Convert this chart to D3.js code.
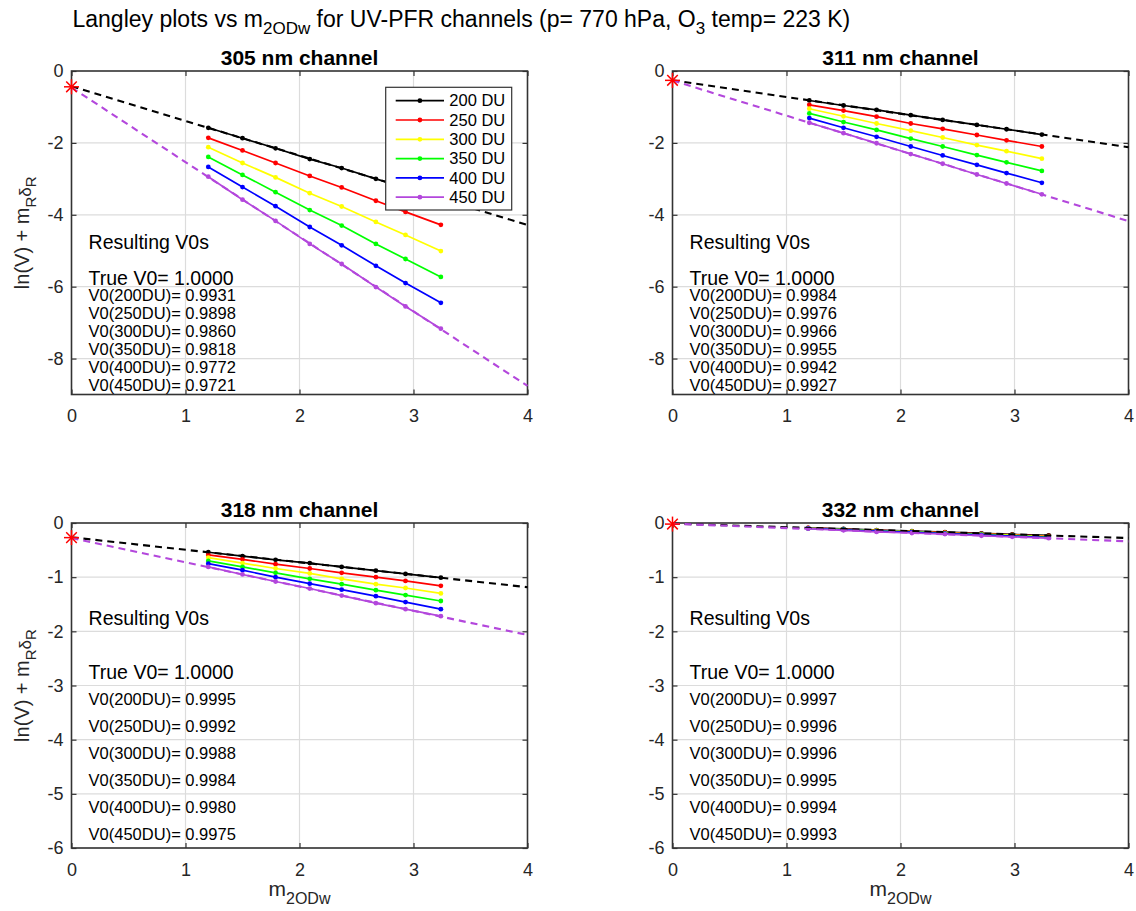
<!DOCTYPE html>
<html>
<head>
<meta charset="utf-8">
<script src="https://cdn.jsdelivr.net/npm/d3@7"></script>
<style>
  body { margin: 0; background: #fff; }
  svg { display: block; }
  text { font-family: "Liberation Sans", Arial, Helvetica, sans-serif; }
</style>
</head>
<body>
<svg id="chart" width="1136" height="911"></svg>
<script>
// Airmass (m_2ODw) of the simulated observations
const airmass = [1.20, 1.50, 1.79, 2.09, 2.37, 2.67, 2.93, 3.24];
const airmass332 = [1.19, 1.50, 1.79, 2.10, 2.39, 2.71, 2.98, 3.30];

// Total ozone columns
const ozoneLabels = ["200 DU", "250 DU", "300 DU", "350 DU", "400 DU", "450 DU"];
const ozoneKeys = ["200DU", "250DU", "300DU", "350DU", "400DU", "450DU"];

// ln(V) + m_R*delta_R, one row per ozone column
const lnV305 = [
  [-1.58, -1.87, -2.15, -2.45, -2.70, -3.00, -3.25, -3.55],
  [-1.86, -2.21, -2.56, -2.92, -3.24, -3.61, -3.92, -4.28],
  [-2.12, -2.56, -2.96, -3.40, -3.77, -4.20, -4.56, -5.01],
  [-2.39, -2.89, -3.37, -3.87, -4.30, -4.81, -5.23, -5.73],
  [-2.67, -3.23, -3.76, -4.34, -4.85, -5.42, -5.90, -6.45],
  [-2.94, -3.58, -4.17, -4.81, -5.37, -6.01, -6.55, -7.17]
];
const lnV311 = [
  [-0.82, -0.96, -1.08, -1.23, -1.36, -1.50, -1.62, -1.77],
  [-0.94, -1.10, -1.27, -1.46, -1.61, -1.78, -1.93, -2.10],
  [-1.05, -1.26, -1.46, -1.66, -1.85, -2.06, -2.23, -2.44],
  [-1.18, -1.42, -1.64, -1.88, -2.10, -2.34, -2.54, -2.78],
  [-1.31, -1.58, -1.83, -2.10, -2.35, -2.61, -2.84, -3.11],
  [-1.44, -1.73, -2.01, -2.31, -2.58, -2.88, -3.13, -3.43]
];
const lnV318 = [
  [-0.54, -0.61, -0.68, -0.74, -0.81, -0.88, -0.94, -1.01],
  [-0.59, -0.67, -0.76, -0.84, -0.92, -1.00, -1.07, -1.16],
  [-0.64, -0.74, -0.84, -0.93, -1.03, -1.13, -1.20, -1.30],
  [-0.70, -0.81, -0.92, -1.03, -1.13, -1.24, -1.33, -1.44],
  [-0.75, -0.87, -1.00, -1.12, -1.23, -1.35, -1.46, -1.59],
  [-0.81, -0.95, -1.08, -1.21, -1.34, -1.48, -1.59, -1.72]
];
const lnV332 = [
  [-0.09, -0.11, -0.13, -0.15, -0.17, -0.19, -0.21, -0.23],
  [-0.09, -0.115, -0.135, -0.155, -0.175, -0.20, -0.22, -0.24],
  [-0.095, -0.12, -0.14, -0.16, -0.185, -0.205, -0.225, -0.25],
  [-0.10, -0.12, -0.145, -0.165, -0.19, -0.215, -0.235, -0.26],
  [-0.10, -0.125, -0.15, -0.17, -0.195, -0.22, -0.24, -0.27],
  [-0.105, -0.135, -0.165, -0.185, -0.205, -0.235, -0.255, -0.28]
];

// Reference point at m = 0 for each channel
const starValues = [-0.44, -0.26, -0.27, -0.02];

// Retrieved V0 per ozone column
const trueV0 = "1.0000";
const v0_305 = ["0.9931", "0.9898", "0.9860", "0.9818", "0.9772", "0.9721"];
const v0_311 = ["0.9984", "0.9976", "0.9966", "0.9955", "0.9942", "0.9927"];
const v0_318 = ["0.9995", "0.9992", "0.9988", "0.9984", "0.9980", "0.9975"];
const v0_332 = ["0.9997", "0.9996", "0.9996", "0.9995", "0.9994", "0.9993"];

const channelTitles = ["305 nm channel", "311 nm channel", "318 nm channel", "332 nm channel"];
const xTicks = [0, 1, 2, 3, 4];
const yTicksTop = [0, -2, -4, -6, -8];
const yTicksBottom = [0, -1, -2, -3, -4, -5, -6];

// ---- styling ----
const seriesColors = ["#000000", "#ff0000", "#ffff00", "#00ff00", "#0000ff", "#b347dc"];
const axisColor = "#333333";
const gridColor = "#dcdcdc";
const tickColor = "#262626";

const panels = [
  { title: channelTitles[0], m: airmass,    lnV: lnV305, v0: v0_305, star: starValues[0], yMin: -9, yTicks: yTicksTop,    textTop: -4.75, legend: true,
    frame: { x0: 71.5,  x1: 527.5,  y0: 71,  y1: 394.5 }, ylabel: true,  xlabel: false },
  { title: channelTitles[1], m: airmass,    lnV: lnV311, v0: v0_311, star: starValues[1], yMin: -9, yTicks: yTicksTop,    textTop: -4.75, legend: false,
    frame: { x0: 672.5, x1: 1128.5, y0: 71,  y1: 394.5 }, ylabel: false, xlabel: false },
  { title: channelTitles[2], m: airmass,    lnV: lnV318, v0: v0_318, star: starValues[2], yMin: -6, yTicks: yTicksBottom, textTop: -1.75, legend: false,
    frame: { x0: 71.5,  x1: 527.5,  y0: 523, y1: 848 },   ylabel: true,  xlabel: true },
  { title: channelTitles[3], m: airmass332, lnV: lnV332, v0: v0_332, star: starValues[3], yMin: -6, yTicks: yTicksBottom, textTop: -1.75, legend: false,
    frame: { x0: 672.5, x1: 1128.5, y0: 523, y1: 848 },   ylabel: false, xlabel: true }
];

const svg = d3.select("#chart");

// Least-squares straight line through one Langley series
function linearFit(xs, ys) {
  const mx = d3.mean(xs), my = d3.mean(ys);
  let sxy = 0, sxx = 0;
  xs.forEach((x, i) => { sxy += (x - mx) * (ys[i] - my); sxx += (x - mx) * (x - mx); });
  const slope = sxy / sxx;
  return { slope, intercept: my - slope * mx };
}

// Figure title
const title = svg.append("text")
  .attr("x", 72.5).attr("y", 27)
  .attr("font-size", 23).attr("fill", "#000");
title.append("tspan").text("Langley plots vs m");
title.append("tspan").attr("font-size", 17).attr("dy", 7).text("2ODw");
title.append("tspan").attr("dy", -7).text(" for UV-PFR channels (p= 770 hPa, O");
title.append("tspan").attr("font-size", 17).attr("dy", 7).text("3");
title.append("tspan").attr("dy", -7).text(" temp= 223 K)");

panels.forEach(p => {
  const f = p.frame;
  const x = d3.scaleLinear().domain([0, 4]).range([f.x0, f.x1]);
  const y = d3.scaleLinear().domain([p.yMin, 0]).range([f.y1, f.y0]);
  const g = svg.append("g");

  // grid
  g.append("g").selectAll("line").data(xTicks.slice(1, -1)).join("line")
    .attr("x1", d => x(d)).attr("x2", d => x(d)).attr("y1", f.y0).attr("y2", f.y1)
    .attr("stroke", gridColor).attr("stroke-width", 1.2);
  g.append("g").selectAll("line").data(p.yTicks.filter(d => d !== 0)).join("line")
    .attr("y1", d => y(d)).attr("y2", d => y(d)).attr("x1", f.x0).attr("x2", f.x1)
    .attr("stroke", gridColor).attr("stroke-width", 1.2);

  // axes with inward ticks on all four sides
  const styleAxis = sel => {
    sel.select(".domain").remove();
    sel.selectAll(".tick line").attr("stroke", axisColor).attr("stroke-width", 1.2);
    sel.selectAll(".tick text").attr("fill", tickColor).attr("font-size", 18)
      .attr("font-family", '"Liberation Sans", Arial, Helvetica, sans-serif');
  };
  g.append("g").attr("transform", `translate(0,${f.y1})`)
    .call(d3.axisBottom(x).tickValues(xTicks).tickSize(-5).tickPadding(15).tickFormat(d => String(d)))
    .call(styleAxis);
  g.append("g").attr("transform", `translate(0,${f.y0})`)
    .call(d3.axisTop(x).tickValues(xTicks).tickSize(-5).tickFormat(""))
    .call(styleAxis);
  g.append("g").attr("transform", `translate(${f.x0},0)`)
    .call(d3.axisLeft(y).tickValues(p.yTicks).tickSize(-5).tickPadding(8).tickFormat(d => String(d)))
    .call(styleAxis);
  g.append("g").attr("transform", `translate(${f.x1},0)`)
    .call(d3.axisRight(y).tickValues(p.yTicks).tickSize(-5).tickFormat(""))
    .call(styleAxis);

  // box
  g.append("rect").attr("x", f.x0).attr("y", f.y0)
    .attr("width", f.x1 - f.x0).attr("height", f.y1 - f.y0)
    .attr("fill", "none").attr("stroke", axisColor).attr("stroke-width", 1.6);

  // data series
  const line = d3.line().x(d => x(d[0])).y(d => y(d[1]));
  p.lnV.forEach((vals, i) => {
    const pts = p.m.map((m, j) => [m, vals[j]]);
    g.append("path").datum(pts).attr("d", line)
      .attr("fill", "none").attr("stroke", seriesColors[i]).attr("stroke-width", 1.7);
    g.append("g").selectAll("circle").data(pts).join("circle")
      .attr("cx", d => x(d[0])).attr("cy", d => y(d[1])).attr("r", 2.4)
      .attr("fill", seriesColors[i]);
  });

  // Langley fits for the lowest and highest ozone columns
  [0, 5].forEach(i => {
    const fit = linearFit(p.m, p.lnV[i]);
    const pts = [0, 4].map(m => [m, fit.intercept + fit.slope * m]);
    g.append("path").datum(pts).attr("d", line)
      .attr("fill", "none").attr("stroke", seriesColors[i]).attr("stroke-width", 2.1)
      .attr("stroke-dasharray", "7,5");
  });

  // reference point at m = 0 (asterisk)
  const sx = x(0), sy = y(p.star), r = 7.5, rd = 5.3;
  const star = g.append("g").attr("stroke", "#ff0000").attr("stroke-width", 1.5);
  [[-r, 0, r, 0], [0, -r, 0, r], [-rd, -rd, rd, rd], [-rd, rd, rd, -rd]].forEach(s => {
    star.append("line").attr("x1", sx + s[0]).attr("y1", sy + s[1]).attr("x2", sx + s[2]).attr("y2", sy + s[3]);
  });

  // retrieved V0 annotation
  const tx = x(0.15);
  g.append("text").attr("x", tx).attr("y", y(p.textTop)).attr("dy", "0.35em")
    .attr("font-size", 19.5).attr("fill", "#000").text("Resulting V0s");
  g.append("text").attr("x", tx).attr("y", y(p.textTop - 1)).attr("dy", "0.35em")
    .attr("font-size", 19.5).attr("fill", "#000").text("True V0= " + trueV0);
  g.append("g").selectAll("text").data(p.v0).join("text")
    .attr("x", tx).attr("y", (d, i) => y(p.textTop - 1.5 - 0.5 * i)).attr("dy", "0.35em")
    .attr("font-size", 16.5).attr("fill", "#000")
    .text((d, i) => `V0(${ozoneKeys[i]})= ${d}`);

  // panel title
  g.append("text").attr("x", (f.x0 + f.x1) / 2).attr("y", f.y0 - 6.5)
    .attr("text-anchor", "middle").attr("font-size", 21).attr("font-weight", "bold")
    .attr("fill", "#000").text(p.title);

  // axis labels
  if (p.ylabel) {
    const yl = g.append("text")
      .attr("transform", `translate(29,${(f.y0 + f.y1) / 2}) rotate(-90)`)
      .attr("text-anchor", "middle").attr("font-size", 20).attr("fill", tickColor);
    yl.append("tspan").text("ln(V) + m");
    yl.append("tspan").attr("font-size", 15).attr("dy", 7).text("R");
    yl.append("tspan").attr("font-size", 17).attr("dy", -5).text("δ");
    yl.append("tspan").attr("font-size", 15).attr("dy", 5).text("R");
  }
  if (p.xlabel) {
    const xl = g.append("text")
      .attr("x", (f.x0 + f.x1) / 2).attr("y", 896)
      .attr("text-anchor", "middle").attr("font-size", 21).attr("fill", tickColor);
    xl.append("tspan").text("m");
    xl.append("tspan").attr("font-size", 16).attr("dy", 8).text("2ODw");
  }

  // legend
  if (p.legend) {
    const lx = f.x0 + 314.2, ly = f.y0 + 16.3, lw = 126, lh = 122.7;
    const lg = g.append("g");
    lg.append("rect").attr("x", lx).attr("y", ly).attr("width", lw).attr("height", lh)
      .attr("fill", "#fff").attr("stroke", axisColor).attr("stroke-width", 1.2);
    ozoneLabels.forEach((lab, i) => {
      const ry = ly + 13.4 + 19.3 * i;
      lg.append("line").attr("x1", lx + 10).attr("x2", lx + 58.3).attr("y1", ry).attr("y2", ry)
        .attr("stroke", seriesColors[i]).attr("stroke-width", 1.7);
      lg.append("circle").attr("cx", lx + 34.2).attr("cy", ry).attr("r", 2.4).attr("fill", seriesColors[i]);
      lg.append("text").attr("x", lx + 63.6).attr("y", ry).attr("dy", "0.35em")
        .attr("font-size", 16.5).attr("fill", "#000").text(lab);
    });
  }
});
</script>
</body>
</html>
